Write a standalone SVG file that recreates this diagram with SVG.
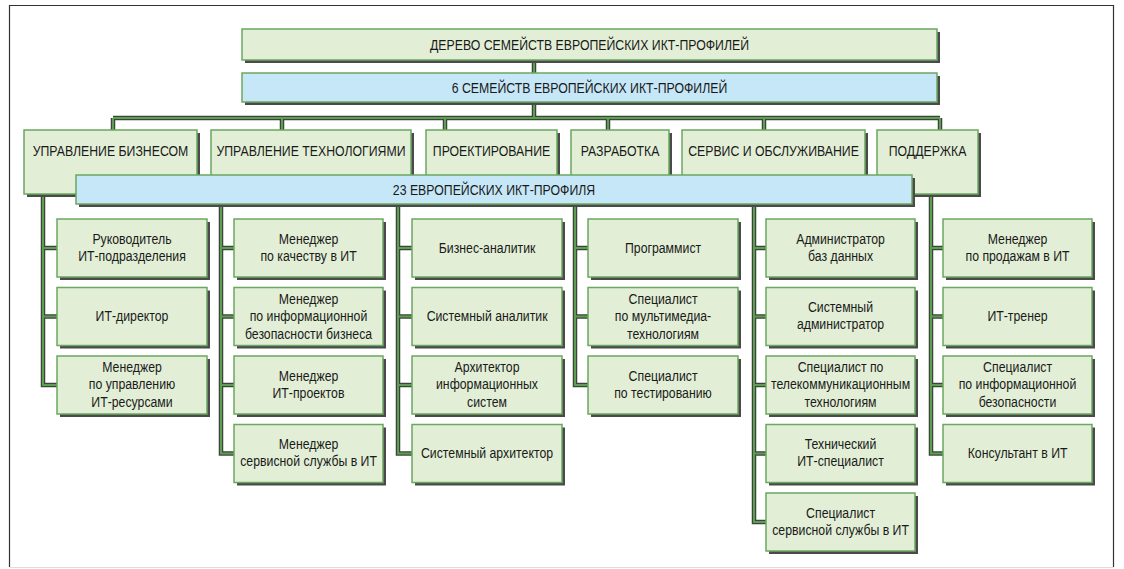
<svg xmlns="http://www.w3.org/2000/svg" width="1124" height="569" viewBox="0 0 1124 569">
<style>
text{font-family:"Liberation Sans",Arial,sans-serif;font-size:15px;fill:#1a1a1a;text-anchor:middle;transform-box:fill-box;transform-origin:center;transform:scaleX(0.82)}
.sh{fill:#4a4a4a}
.g{fill:#e2efd6;stroke:#6aa860;stroke-width:1.5}
.b{fill:#c6e7f7;stroke:#6aa860;stroke-width:1.5}
.cs{fill:none;stroke:#3a463a;stroke-width:4.5}
.cg{fill:none;stroke:#5e9e52;stroke-width:2}
</style>
<defs>
<path id="conn" d="M534 60V73M534 102V118M113 118H940M113 118V130M282 118V130M445 118V130M608 118V130M764 118V130M940 118V130M43 194V385H57M43 248H57M43 316.5H57M221 204V453.5H234M221 248H234M221 316.5H234M221 385H234M398 204V453.5H412M398 248H412M398 316.5H412M398 385H412M575 204V385H588M575 248H588M575 316.5H588M754 204V522H766M754 248H766M754 316.5H766M754 385H766M754 453.5H766M931 194V453.5H943M931 248H943M931 316.5H943M931 385H943"/>
</defs>
<rect width="1124" height="569" fill="#fff"/>
<path d="M9.5 567V5.5H1113.5V567" fill="none" stroke="#333" stroke-width="1.2"/>
<path d="M9.5 567.5H1113.5" fill="none" stroke="#ddd" stroke-width="1"/>

<g id="connectors">
<use href="#conn" class="cs"/>
<use href="#conn" class="cg"/>
</g>

<g id="n-root"><rect class="sh" x="245" y="32" width="695" height="31"/><rect class="g" x="242" y="29" width="695" height="31"/><text x="589.5" y="50.5">ДЕРЕВО СЕМЕЙСТВ ЕВРОПЕЙСКИХ ИКТ-ПРОФИЛЕЙ</text></g>
<g id="n-families"><rect class="sh" x="245" y="76" width="695" height="29"/><rect class="b" x="242" y="73" width="695" height="29"/><text x="589.5" y="93">6 СЕМЕЙСТВ ЕВРОПЕЙСКИХ ИКТ-ПРОФИЛЕЙ</text></g>

<g id="f-biz"><rect class="sh" x="27" y="133" width="173" height="64"/><rect class="g" x="24" y="130" width="173" height="64"/><text x="110.5" y="156">УПРАВЛЕНИЕ БИЗНЕСОМ</text></g>
<g id="f-tech"><rect class="sh" x="214" y="133" width="200" height="60"/><rect class="g" x="211" y="130" width="200" height="60"/><text x="311" y="156">УПРАВЛЕНИЕ ТЕХНОЛОГИЯМИ</text></g>
<g id="f-design"><rect class="sh" x="429" y="133" width="131" height="60"/><rect class="g" x="426" y="130" width="131" height="60"/><text x="491.5" y="156">ПРОЕКТИРОВАНИЕ</text></g>
<g id="f-dev"><rect class="sh" x="574" y="133" width="98" height="60"/><rect class="g" x="571" y="130" width="98" height="60"/><text x="620" y="156">РАЗРАБОТКА</text></g>
<g id="f-service"><rect class="sh" x="685" y="133" width="183" height="60"/><rect class="g" x="682" y="130" width="183" height="60"/><text x="773.5" y="156">СЕРВИС И ОБСЛУЖИВАНИЕ</text></g>
<g id="f-support"><rect class="sh" x="880" y="133" width="101" height="64"/><rect class="g" x="877" y="130" width="101" height="64"/><text x="927.5" y="156">ПОДДЕРЖКА</text></g>

<g id="n-profiles"><rect class="sh" x="79" y="178" width="836" height="29"/><rect class="b" x="76" y="175" width="836" height="29"/><text x="494" y="195">23 ЕВРОПЕЙСКИХ ИКТ-ПРОФИЛЯ</text></g>

<!-- column 1 -->
<g id="p1-1"><rect class="sh" x="60" y="222" width="150" height="58"/><rect class="g" x="57" y="219" width="150" height="58"/><text x="132" y="244">Руководитель</text><text x="132" y="261">ИТ-подразделения</text></g>
<g id="p1-2"><rect class="sh" x="60" y="290.5" width="150" height="58"/><rect class="g" x="57" y="287.5" width="150" height="58"/><text x="132" y="321.5">ИТ-директор</text></g>
<g id="p1-3"><rect class="sh" x="60" y="359" width="150" height="58"/><rect class="g" x="57" y="356" width="150" height="58"/><text x="132" y="372">Менеджер</text><text x="132" y="389.5">по управлению</text><text x="132" y="407">ИТ-ресурсами</text></g>

<!-- column 2 -->
<g id="p2-1"><rect class="sh" x="237" y="222" width="149" height="58"/><rect class="g" x="234" y="219" width="149" height="58"/><text x="308.5" y="244">Менеджер</text><text x="308.5" y="261">по качеству в ИТ</text></g>
<g id="p2-2"><rect class="sh" x="237" y="290.5" width="149" height="58"/><rect class="g" x="234" y="287.5" width="149" height="58"/><text x="308.5" y="304">Менеджер</text><text x="308.5" y="321.5">по информационной</text><text x="308.5" y="339">безопасности бизнеса</text></g>
<g id="p2-3"><rect class="sh" x="237" y="359" width="149" height="58"/><rect class="g" x="234" y="356" width="149" height="58"/><text x="308.5" y="381">Менеджер</text><text x="308.5" y="398">ИТ-проектов</text></g>
<g id="p2-4"><rect class="sh" x="237" y="427.5" width="149" height="58"/><rect class="g" x="234" y="424.5" width="149" height="58"/><text x="308.5" y="449.5">Менеджер</text><text x="308.5" y="466.5">сервисной службы в ИТ</text></g>

<!-- column 3 -->
<g id="p3-1"><rect class="sh" x="415" y="222" width="150" height="58"/><rect class="g" x="412" y="219" width="150" height="58"/><text x="487" y="253">Бизнес-аналитик</text></g>
<g id="p3-2"><rect class="sh" x="415" y="290.5" width="150" height="58"/><rect class="g" x="412" y="287.5" width="150" height="58"/><text x="487" y="321.5">Системный аналитик</text></g>
<g id="p3-3"><rect class="sh" x="415" y="359" width="150" height="58"/><rect class="g" x="412" y="356" width="150" height="58"/><text x="487" y="372">Архитектор</text><text x="487" y="389.5">информационных</text><text x="487" y="407">систем</text></g>
<g id="p3-4"><rect class="sh" x="415" y="427.5" width="150" height="58"/><rect class="g" x="412" y="424.5" width="150" height="58"/><text x="487" y="458.5">Системный архитектор</text></g>

<!-- column 4 -->
<g id="p4-1"><rect class="sh" x="591" y="222" width="150" height="58"/><rect class="g" x="588" y="219" width="150" height="58"/><text x="663" y="253">Программист</text></g>
<g id="p4-2"><rect class="sh" x="591" y="290.5" width="150" height="58"/><rect class="g" x="588" y="287.5" width="150" height="58"/><text x="663" y="304">Специалист</text><text x="663" y="321.5">по мультимедиа-</text><text x="663" y="339">технологиям</text></g>
<g id="p4-3"><rect class="sh" x="591" y="359" width="150" height="58"/><rect class="g" x="588" y="356" width="150" height="58"/><text x="663" y="381">Специалист</text><text x="663" y="398">по тестированию</text></g>

<!-- column 5 -->
<g id="p5-1"><rect class="sh" x="769" y="222" width="149" height="58"/><rect class="g" x="766" y="219" width="149" height="58"/><text x="840.5" y="244">Администратор</text><text x="840.5" y="261">баз данных</text></g>
<g id="p5-2"><rect class="sh" x="769" y="290.5" width="149" height="58"/><rect class="g" x="766" y="287.5" width="149" height="58"/><text x="840.5" y="312.5">Системный</text><text x="840.5" y="329.5">администратор</text></g>
<g id="p5-3"><rect class="sh" x="769" y="359" width="149" height="58"/><rect class="g" x="766" y="356" width="149" height="58"/><text x="840.5" y="372">Специалист по</text><text x="840.5" y="389.5">телекоммуникационным</text><text x="840.5" y="407">технологиям</text></g>
<g id="p5-4"><rect class="sh" x="769" y="427.5" width="149" height="58"/><rect class="g" x="766" y="424.5" width="149" height="58"/><text x="840.5" y="449.5">Технический</text><text x="840.5" y="466.5">ИТ-специалист</text></g>
<g id="p5-5"><rect class="sh" x="769" y="496" width="149" height="58"/><rect class="g" x="766" y="493" width="149" height="58"/><text x="840.5" y="518">Специалист</text><text x="840.5" y="535">сервисной службы в ИТ</text></g>

<!-- column 6 -->
<g id="p6-1"><rect class="sh" x="946" y="222" width="149" height="58"/><rect class="g" x="943" y="219" width="149" height="58"/><text x="1017.5" y="244">Менеджер</text><text x="1017.5" y="261">по продажам в ИТ</text></g>
<g id="p6-2"><rect class="sh" x="946" y="290.5" width="149" height="58"/><rect class="g" x="943" y="287.5" width="149" height="58"/><text x="1017.5" y="321.5">ИТ-тренер</text></g>
<g id="p6-3"><rect class="sh" x="946" y="359" width="149" height="58"/><rect class="g" x="943" y="356" width="149" height="58"/><text x="1017.5" y="372">Специалист</text><text x="1017.5" y="389.5">по информационной</text><text x="1017.5" y="407">безопасности</text></g>
<g id="p6-4"><rect class="sh" x="946" y="427.5" width="149" height="58"/><rect class="g" x="943" y="424.5" width="149" height="58"/><text x="1017.5" y="458.5">Консультант в ИТ</text></g>
</svg>
